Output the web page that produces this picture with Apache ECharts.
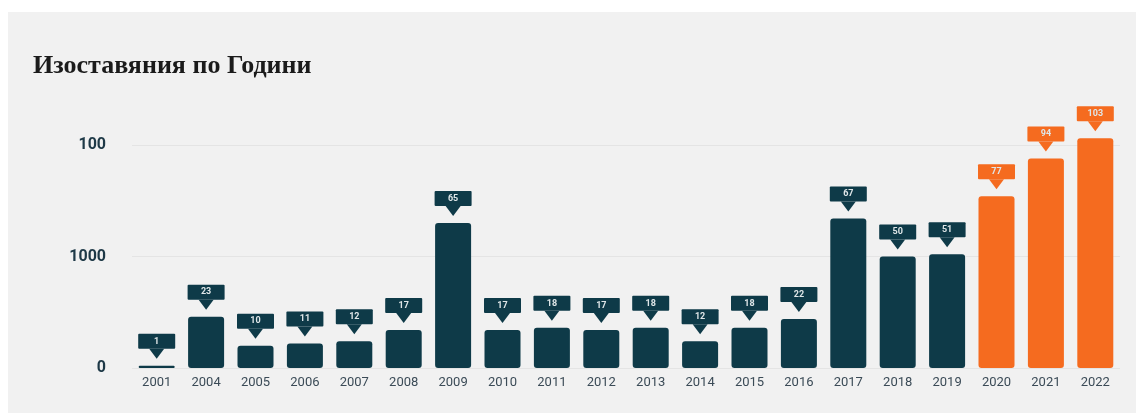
<!DOCTYPE html>
<html>
<head>
<meta charset="utf-8">
<script src="https://cdn.jsdelivr.net/npm/echarts@6/dist/echarts.min.js"></script>
<style>
  html, body { margin: 0; padding: 0; background: #fff; }
  #panel { position: absolute; left: 8px; top: 12px; width: 1128px; height: 401px; background: #f1f1f1; }
  #chart { position: absolute; left: 0; top: 0; width: 1136px; height: 413px; }
</style>
</head>
<body>
<div id="panel"></div>
<div id="chart"></div>
<script>
// Години и брой изоставяния
const years = ['2001', '2004', '2005', '2006', '2007', '2008', '2009', '2010', '2011', '2012',
  '2013', '2014', '2015', '2016', '2017', '2018', '2019', '2020', '2021', '2022'];
const counts = [1, 23, 10, 11, 12, 17, 65, 17, 18, 17, 18, 12, 18, 22, 67, 50, 51, 77, 94, 103];
// надписите по оста Y, както са в оригинала
const yTickLabels = ['0', '1000', '100'];

const DARK = '#0e3a48';
const ORANGE = '#f56b1f';
const highlightFrom = 2020;

const barColor = i => (Number(years[i]) >= highlightFrom ? ORANGE : DARK);

const chart = echarts.init(document.getElementById('chart'));

const option = {
  animation: false,
  title: {
    text: 'Изоставяния по Години',
    left: 28,
    top: 48,
    textStyle: {
      fontFamily: 'Liberation Serif',
      fontWeight: 'bold',
      fontSize: 26,
      color: '#1b1b1b',
    },
  },
  grid: { left: 132, right: 16, top: 145, bottom: 45 },
  xAxis: {
    type: 'category',
    data: years,
    axisLine: { show: false },
    axisTick: { show: false },
    axisLabel: {
      margin: 8,
      fontFamily: 'Roboto',
      fontSize: 13,
      color: '#3b4b57',
    },
  },
  yAxis: {
    type: 'value',
    min: 0,
    max: 100,
    interval: 50,
    axisLabel: {
      margin: 26,
      fontFamily: 'Roboto',
      fontWeight: 'bold',
      fontSize: 16,
      color: '#1e3947',
      formatter: v => yTickLabels[v / 50],
    },
    splitLine: { lineStyle: { color: '#e4e4e4', width: 1 } },
  },
  series: [
    {
      // стрелката под етикета
      type: 'pictorialBar',
      data: counts.map((v, i) => ({ value: v, itemStyle: { color: barColor(i) } })),
      symbol: 'triangle',
      symbolRotate: 180,
      symbolSize: [15, 10],
      symbolPosition: 'end',
      symbolOffset: [0, -17],
      clip: false,
      z: 3,
    },
    {
      type: 'bar',
      data: counts.map((v, i) => ({
        value: v,
        itemStyle: { color: barColor(i) },
        label: { backgroundColor: barColor(i) },
      })),
      barWidth: 36,
      barGap: '-100%',
      clip: false,
      itemStyle: { borderRadius: 3 },
      label: {
        show: true,
        position: 'top',
        distance: 17,
        width: 37,
        height: 15,
        lineHeight: 15,
        align: 'center',
        fontFamily: 'Roboto',
        fontWeight: 'bold',
        fontSize: 9,
        color: '#dfe6e8',
        borderRadius: 1,
      },
      z: 2,
    },
  ],
};

chart.setOption(option);
</script>
</body>
</html>
